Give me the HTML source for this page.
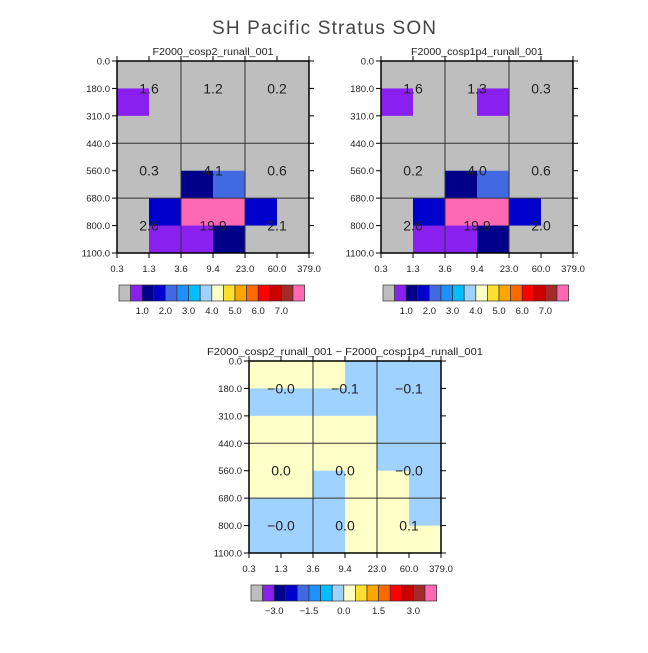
<!DOCTYPE html>
<html><head><meta charset="utf-8"><style>
html,body{margin:0;padding:0;background:#fff}
svg text{font-family:"Liberation Sans","DejaVu Sans",sans-serif;fill:#222}
</style></head><body>
<svg id="s" width="648" height="648" viewBox="0 0 648 648" xmlns="http://www.w3.org/2000/svg">
<text x="324" y="34" font-size="19" text-anchor="middle" textLength="224" fill="#444" style="fill:#444">SH Pacific Stratus SON</text>
</svg>
<script>
const xTicks = ["0.3","1.3","3.6","9.4","23.0","60.0","379.0"];
const yTicks = ["0.0","180.0","310.0","440.0","560.0","680.0","800.0","1100.0"];
const colors = ["#bebebe","#8a20f0","#00008b","#0000cd","#4169e1","#1e90ff","#00bfff","#a0d2ff","#ffffc8","#ffe030","#ffa500","#ff6a00","#ff0000","#cd0000","#a52a2a","#ff69b4"];
const levelsA = [0.5,1,1.5,2,2.5,3,3.5,4,4.5,5,5.5,6,6.5,7,7.5];
const levelsD = [-3.5,-3,-2.5,-2,-1.5,-1,-0.5,0,0.5,1,1.5,2,2.5,3,3.5];
const cbLabelsA = ["1.0","2.0","3.0","4.0","5.0","6.0","7.0"];
const cbLabelIdxA = [2,4,6,8,10,12,14];
const cbLabelsD = ["\u22123.0","\u22121.5","0.0","1.5","3.0"];
const cbLabelIdxD = [2,5,8,11,14];
// cell values, rows top->bottom, cols left->right
const cellsA = [
 [0.1,0.1,0.1,0.1,0.1,0.1],
 [0.8,0.1,0.1,0.1,0.1,0.1],
 [0.1,0.1,0.1,0.1,0.1,0.1],
 [0.1,0.1,0.1,0.1,0.1,0.1],
 [0.1,0.1,1.2,2.2,0.1,0.1],
 [0.1,1.7,9.0,9.0,1.7,0.1],
 [0.1,0.8,0.8,1.2,0.1,0.1]];
const cellsB = [
 [0.1,0.1,0.1,0.1,0.1,0.1],
 [0.8,0.1,0.1,0.8,0.1,0.1],
 [0.1,0.1,0.1,0.1,0.1,0.1],
 [0.1,0.1,0.1,0.1,0.1,0.1],
 [0.1,0.1,1.2,2.2,0.1,0.1],
 [0.1,1.7,9.0,9.0,1.7,0.1],
 [0.1,0.8,0.8,1.2,0.1,0.1]];
const cellsD = [
 [0.02,0.02,0.02,-0.02,-0.02,-0.02],
 [-0.02,-0.02,-0.02,-0.02,-0.02,-0.02],
 [0.02,0.02,0.02,0.02,-0.02,-0.02],
 [0.02,0.02,0.02,0.02,-0.02,-0.02],
 [0.02,0.02,-0.02,0.02,0.02,-0.02],
 [-0.02,-0.02,-0.02,0.02,0.02,-0.02],
 [-0.02,-0.02,-0.02,0.02,0.02,0.02]];
const labelsA = [["1.6","1.2","0.2"],["0.3","4.1","0.6"],["2.6","19.9","2.1"]];
const labelsB = [["1.6","1.3","0.3"],["0.2","4.0","0.6"],["2.6","19.9","2.0"]];
const labelsD = [["\u22120.0","\u22120.1","\u22120.1"],["0.0","0.0","\u22120.0"],["\u22120.0","0.0","0.1"]];

const svg=document.getElementById('s');
const NS='http://www.w3.org/2000/svg';
function mk(tag,attrs,parent){const e=document.createElementNS(NS,tag);for(const k in attrs)e.setAttribute(k,attrs[k]);(parent||svg).appendChild(e);return e;}
function colorFor(v,lv){let i=0;while(i<lv.length&&v>=lv[i])i++;return colors[i];}

function panel(name,x0,y0,title,cells,labels,lv,cbY,cbLabels,cbIdx,titleLen){
  const g=mk('g',{});
  
  
  const W=192,H=192,nc=6,nr=7,cw=W/nc,rh=H/nr;
  const sx=c=>x0+c*cw, sy=r=>y0+r*rh;
  cells.forEach((row,r)=>row.forEach((v,c)=>{
    const rc=mk('rect',{x:sx(c),y:sy(r),width:cw+0.5,height:rh+0.5,fill:colorFor(v,lv)},g);
    
    
  }));
  [2,4].forEach(c=>mk('line',{x1:sx(c),x2:sx(c),y1:y0,y2:y0+H,stroke:'#333','stroke-width':1},g));
  [3,5].forEach(r=>mk('line',{x1:x0,x2:x0+W,y1:sy(r),y2:sy(r),stroke:'#333','stroke-width':1},g));
  const fr=mk('rect',{x:x0,y:y0,width:W,height:H,fill:'none',stroke:'#000','stroke-width':1.5},g);
  
  
  xTicks.forEach((t,i)=>{
    const x=sx(i);
    mk('line',{x1:x,x2:x,y1:y0+H,y2:y0+H+5,stroke:'#000'},g);
    mk('line',{x1:x,x2:x,y1:y0,y2:y0-5,stroke:'#000'},g);
    const tx=mk('text',{x:x,y:y0+H+19,'font-size':9.5,'text-anchor':'middle'},g);
    tx.textContent=t;
    
    
  });
  yTicks.forEach((t,i)=>{
    const y=sy(i);
    mk('line',{x1:x0,x2:x0-5,y1:y,y2:y,stroke:'#000'},g);
    mk('line',{x1:x0+W,x2:x0+W+5,y1:y,y2:y,stroke:'#000'},g);
    const tx=mk('text',{x:x0-7,y:y+3.5,'font-size':9.5,'text-anchor':'end'},g);
    tx.textContent=t;
    
    
  });
  const lr=[1,4,6];
  labels.forEach((row,i)=>row.forEach((t,j)=>{
    const tx=mk('text',{x:sx(1+2*j),y:sy(lr[i])+5,'font-size':14,'text-anchor':'middle',fill:'#333'},g);
    tx.textContent=t;
    
    
  }));
  const tt=mk('text',{x:x0+W/2,y:y0-6,'font-size':10,'text-anchor':'middle',textLength:titleLen,lengthAdjust:'spacingAndGlyphs'},g);
  tt.textContent=title;
  
  
  const cbx=x0+2,bw=11.6;
  const cb=mk('g',{},g);
  
  
  colors.forEach((c,i)=>{
    const b=mk('rect',{x:cbx+i*bw,y:cbY,width:bw,height:16,fill:c,stroke:'#333','stroke-width':0.7},cb);
    
    
  });
  cbLabels.forEach((t,i)=>{
    const tx=mk('text',{x:cbx+cbIdx[i]*bw,y:cbY+29,'font-size':9.5,'text-anchor':'middle'},cb);
    tx.textContent=t;
    
    
  });
}
panel('panel-cosp2',117,61,'F2000_cosp2_runall_001',cellsA,labelsA,levelsA,285,cbLabelsA,cbLabelIdxA,121);
panel('panel-cosp1p4',381,61,'F2000_cosp1p4_runall_001',cellsB,labelsB,levelsA,285,cbLabelsA,cbLabelIdxA,132);
panel('panel-difference',249,361,'F2000_cosp2_runall_001 \u2212 F2000_cosp1p4_runall_001',cellsD,labelsD,levelsD,585,cbLabelsD,cbLabelIdxD,276);
</script>
</body></html>
